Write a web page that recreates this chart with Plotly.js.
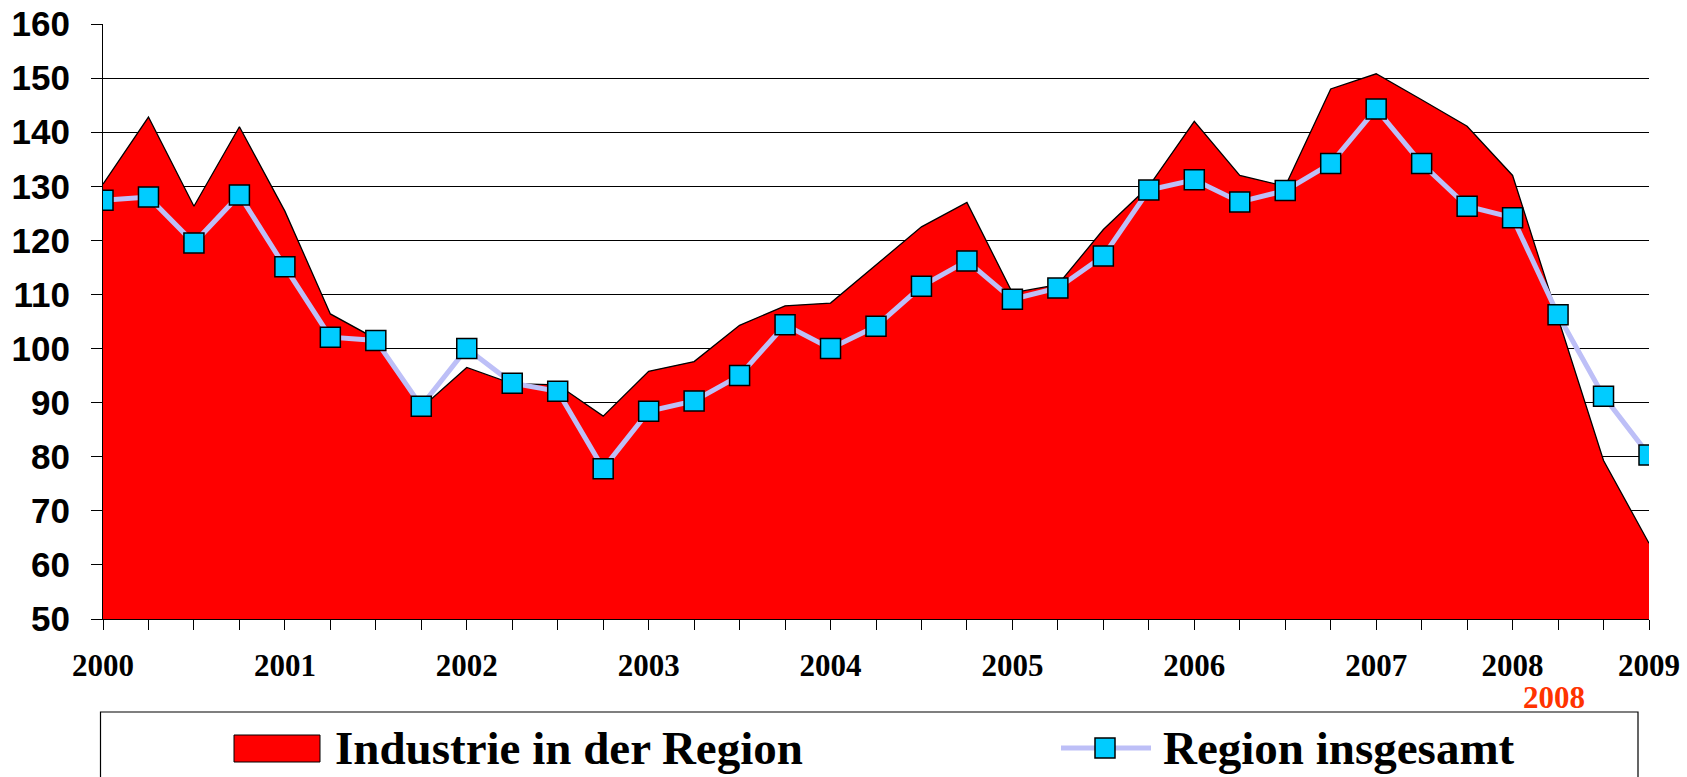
<!DOCTYPE html>
<html>
<head>
<meta charset="utf-8">
<script src="https://cdn.plot.ly/plotly-3.0.1.min.js"></script>
<style>
  html, body { margin: 0; padding: 0; background: #ffffff; }
  #chart { width: 1687px; height: 777px; }
</style>
</head>
<body>
<div id="chart"></div>
<script>
// Quarterly points, 2000 .. 2009
const tickLabels = [
  '2000', '', '', '', '2001', '', '', '', '2002', '', '', '', '2003', '', '', '',
  '2004', '', '', '', '2005', '', '', '', '2006', '', '', '', '2007', '', '', '2008',
  '', '', '2009'
];

// Industrie in der Region (area)
const industrie = [
  130.4, 142.8, 126.3, 141.0, 125.4, 106.4, 101.8, 89.0, 96.5, 93.5, 93.3, 87.5,
  95.8, 97.6, 104.3, 107.9, 108.4, 115.5, 122.5, 127.0, 110.3, 111.8, 122.0, 130.0,
  142.0, 132.0, 130.0, 148.0, 150.8, 146.0, 141.1, 132.0, 105.5, 79.3, 64.0
];

// Region insgesamt (line with markers)
const regionGesamt = [
  127.4, 128.0, 119.5, 128.4, 115.1, 102.1, 101.5, 89.35, 100.0, 93.6, 92.1, 77.8,
  88.4, 90.3, 95.0, 104.4, 100.0, 104.1, 111.5, 116.2, 109.1, 111.2, 117.1, 129.3,
  131.2, 127.1, 129.2, 134.2, 144.3, 134.2, 126.3, 124.2, 106.25, 91.2, 80.3
];

const seriesNames = ['Industrie in der Region', 'Region insgesamt'];
const highlightLabel = '2008';
const highlightIndex = 31.9;

const xIdx = tickLabels.map((_, i) => i);

const colRed = '#FF0000';
const colCyan = '#00CCFF';
const colLav = '#BDBFF7';

const traces = [
  {
    type: 'scatter', mode: 'lines', name: seriesNames[0],
    x: xIdx, y: industrie, fill: 'tozeroy', fillcolor: colRed,
    line: { color: '#000000', width: 1.3 },
    showlegend: false, hoverinfo: 'skip'
  },
  {
    type: 'scatter', mode: 'lines+markers', name: seriesNames[1],
    x: xIdx, y: regionGesamt,
    line: { color: colLav, width: 5 },
    marker: { symbol: 'square', size: 20, color: colCyan, line: { color: '#000000', width: 1.5 } },
    showlegend: false, hoverinfo: 'skip'
  }
];

// plot area geometry (px) used for the hand-made legend box
const W = 1687, H = 777;
const mL = 103, mR = 38, mT = 24, mB = 158;
const pw = W - mL - mR, ph = H - mT - mB;
const px = X => (X - mL) / pw;
const py = Y => (H - mB - Y) / ph;

const serif = 'Liberation Serif, Times New Roman, serif';

const layout = {
  width: W, height: H,
  margin: { l: mL, r: mR, t: mT, b: mB, pad: 0 },
  paper_bgcolor: '#ffffff', plot_bgcolor: '#ffffff',
  showlegend: false,
  xaxis: {
    range: [0, xIdx.length - 1],
    tickmode: 'array', tickvals: xIdx, ticktext: tickLabels,
    ticks: 'outside', ticklen: 10, tickwidth: 1, tickcolor: '#000000',
    showgrid: false, zeroline: false,
    showline: true, linecolor: '#000000', linewidth: 1,
    tickangle: 0, ticklabelstandoff: 9,
    tickfont: { family: serif, size: 31, color: '#000000', weight: 700 }
  },
  yaxis: {
    range: [50, 160], dtick: 10, tick0: 50,
    ticks: 'outside', ticklen: 11, tickwidth: 1, tickcolor: '#000000',
    showgrid: true, gridcolor: '#000000', gridwidth: 1,
    zeroline: false, showline: true, linecolor: '#000000', linewidth: 1,
    ticklabelstandoff: 14,
    tickfont: { family: 'Liberation Sans, Arial, sans-serif', size: 35, color: '#000000', weight: 700 }
  },
  shapes: [
    // legend frame
    { type: 'rect', xref: 'paper', yref: 'paper', x0: px(100.5), x1: px(1638), y0: py(800), y1: py(712),
      line: { color: '#000000', width: 1.2 }, fillcolor: 'rgba(0,0,0,0)', layer: 'above' },
    // legend swatch: area
    { type: 'rect', xref: 'paper', yref: 'paper', x0: px(234), x1: px(320), y0: py(762), y1: py(735),
      line: { color: '#000000', width: 1 }, fillcolor: colRed, layer: 'above' },
    // legend swatch: line
    { type: 'line', xref: 'paper', yref: 'paper', x0: px(1061), x1: px(1151), y0: py(748), y1: py(748),
      line: { color: colLav, width: 5 }, layer: 'above' },
    { type: 'rect', xref: 'paper', yref: 'paper', x0: px(1095), x1: px(1115), y0: py(758), y1: py(738),
      line: { color: '#000000', width: 1.5 }, fillcolor: colCyan, layer: 'above' }
  ],
  annotations: [
    { xref: 'x', yref: 'paper', x: highlightIndex, y: py(697), text: highlightLabel, showarrow: false,
      xanchor: 'center', yanchor: 'middle',
      font: { family: serif, size: 31, color: '#FF3300', weight: 700 } },
    { xref: 'paper', yref: 'paper', x: px(333), y: py(748), text: seriesNames[0], showarrow: false,
      xanchor: 'left', yanchor: 'middle',
      font: { family: serif, size: 47, color: '#000000', weight: 700 } },
    { xref: 'paper', yref: 'paper', x: px(1161), y: py(748), text: seriesNames[1], showarrow: false,
      xanchor: 'left', yanchor: 'middle',
      font: { family: serif, size: 47, color: '#000000', weight: 700 } }
  ]
};

Plotly.newPlot('chart', traces, layout, { staticPlot: true, displayModeBar: false });
</script>
</body>
</html>
